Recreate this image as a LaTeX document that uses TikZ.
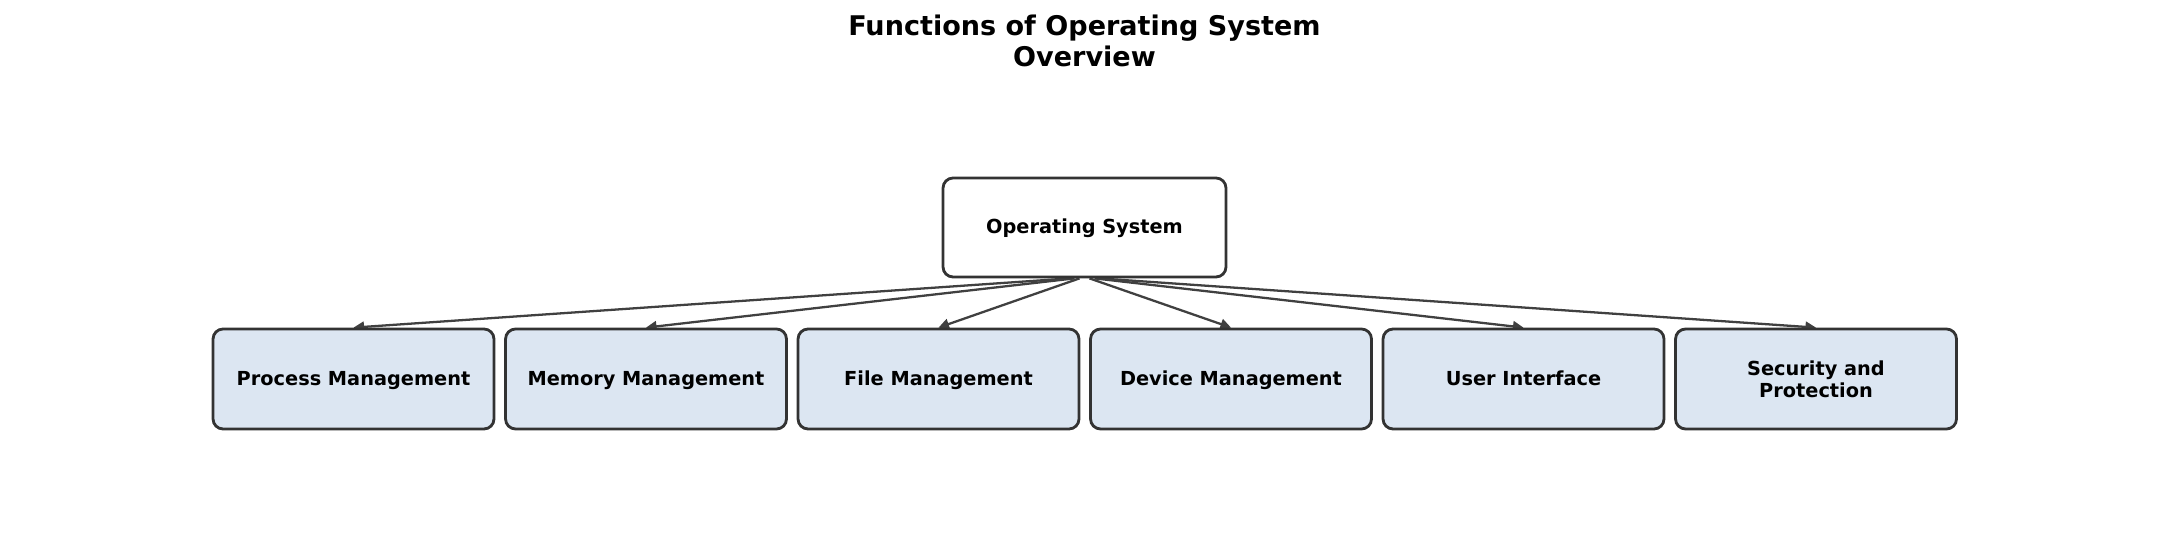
\documentclass[tikz,border=0pt]{standalone}
\usepackage{fontspec}
\setmainfont{DejaVu Sans}
\usetikzlibrary{arrows.meta,backgrounds}
\definecolor{boxfill}{HTML}{DCE6F2}
\definecolor{boxedge}{HTML}{333333}
\definecolor{arrowcol}{HTML}{404040}
\begin{document}
\begin{tikzpicture}[x=0.02cm,y=-0.02cm]
\tikzset{
  funcbox/.style={draw=boxedge, fill=boxfill, line width=1.6pt, rounded corners=0.2cm,
    minimum width=5.62cm, minimum height=2cm, align=center, inner sep=0pt,
    font=\fontsize{11}{12.5}\selectfont\bfseries},
  oneline/.style={text height=0.73em, text depth=0pt},
  osbox/.style={funcbox, oneline, fill=white, minimum width=5.66cm, minimum height=1.98cm},
  conn/.style={draw=arrowcol, line width=1.3pt, -{Triangle[length=6pt,width=6pt]}}
}
\useasboundingbox (0,0) rectangle (2169,546);
\node[align=center, font=\fontsize{15.4}{17.2}\selectfont\bfseries] (title) at (1084.5,41) {Functions of Operating System\\Overview};
\node[osbox] (os) at (1084.5,227.5) {Operating System};
\node[funcbox, oneline] (p) at (353.5,379) {Process Management};
\node[funcbox, oneline] (m) at (646,379) {Memory Management};
\node[funcbox, oneline] (f) at (938.5,379) {File Management};
\node[funcbox, oneline] (d) at (1231,379) {Device Management};
\node[funcbox, oneline] (u) at (1523.5,379) {User Interface};
\node[funcbox] (s) at (1816,379) {Security and\\Protection};
\begin{scope}[on background layer]
\draw[conn] ([xshift=-0.3cm]os.south) -- (p.north);
\draw[conn] ([xshift=-0.2cm]os.south) -- (m.north);
\draw[conn] ([xshift=-0.1cm]os.south) -- (f.north);
\draw[conn] ([xshift=0.1cm]os.south) -- (d.north);
\draw[conn] ([xshift=0.2cm]os.south) -- (u.north);
\draw[conn] ([xshift=0.3cm]os.south) -- (s.north);
\end{scope}
\end{tikzpicture}
\end{document}
